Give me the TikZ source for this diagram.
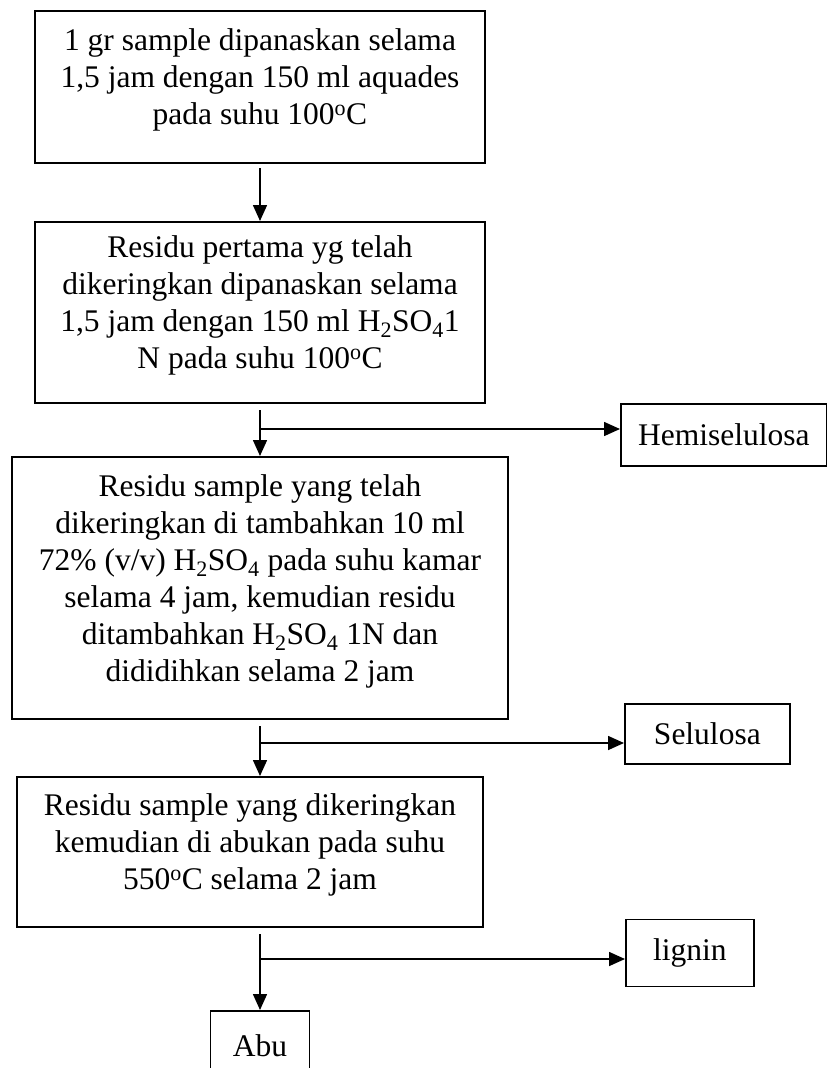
\documentclass[tikz,border=0pt]{standalone}
\usepackage{fontspec}
\setmainfont{Liberation Serif}
\usetikzlibrary{arrows.meta,positioning}
\tikzset{
  stepbox/.style={draw, line width=2pt, align=center, inner sep=0pt, font=\fontsize{31.5}{37}\selectfont},
  resultbox/.style={draw, line width=1.7pt, inner sep=0pt, font=\fontsize{31.5}{37}\selectfont},
  flowarrow/.style={line width=1.6pt, -{Triangle[length=16pt,width=14pt]}},
}
\newcommand{\padbottom}{\rule[-20pt]{0pt}{1pt}}

\begin{document}
\begin{tikzpicture}[x=1pt, y=-1pt]
    \useasboundingbox (0,0) rectangle (827,1068);
    \node[stepbox, minimum width=450pt, minimum height=152pt] (boil) at (260,87) {1 gr sample dipanaskan selama\\1,5 jam dengan 150 ml aquades\\pada suhu 100\textsuperscript{o}C\padbottom};
    \node[stepbox, minimum width=450pt, minimum height=181pt, below=57pt of boil] (acid) {Residu pertama yg telah\\dikeringkan dipanaskan selama\\1,5 jam dengan 150 ml H\textsubscript{2}SO\textsubscript{4}1\\N pada suhu 100\textsuperscript{o}C\padbottom};
    \node[stepbox, minimum width=496pt, minimum height=262pt, below=52pt of acid] (strong) {Residu sample yang telah\\dikeringkan di tambahkan 10 ml\\72\% (v/v) H\textsubscript{2}SO\textsubscript{4} pada suhu kamar\\selama 4 jam, kemudian residu\\ditambahkan H\textsubscript{2}SO\textsubscript{4} 1N dan\\dididihkan selama 2 jam\padbottom};
    \node[stepbox, minimum width=466pt, minimum height=150pt, below=56pt of strong, xshift=-10pt] (ash) {Residu sample yang dikeringkan\\kemudian di abukan pada suhu\\550\textsuperscript{o}C selama 2 jam\padbottom};
    \node[resultbox, minimum width=99pt, minimum height=70pt, below=82pt of ash, xshift=10pt] (abu) {Abu};
    \coordinate[below=25pt of acid] (split1);
    \coordinate[below=23pt of strong] (split2);
    \coordinate (drop3) at (ash.south -| strong.south);
    \coordinate[below=31pt of drop3] (split3);
    \node[resultbox, minimum width=206pt, minimum height=62pt, right=360pt of split1, yshift=-6pt] (hemi) {Hemiselulosa};
    \node[resultbox, minimum width=165pt, minimum height=60pt, right=364pt of split2, yshift=9pt] (selu) {Selulosa};
    \node[resultbox, minimum width=128pt, minimum height=67pt, right=365pt of split3, yshift=6pt] (lignin) {lignin};
    \draw[flowarrow] ([yshift=-4pt]boil.south) -- (acid.north);
    \draw[flowarrow] ([yshift=-6pt]acid.south) -- (strong.north);
    \draw[flowarrow] (split1) -- (split1 -| hemi.west);
    \draw[flowarrow] ([yshift=-6pt]strong.south) -- (strong.south |- ash.north);
    \draw[flowarrow] (split2) -- (split2 -| selu.west);
    \draw[flowarrow] ([yshift=-6pt]drop3) -- (abu.north);
    \draw[flowarrow] (split3) -- (split3 -| lignin.west);
  \end{tikzpicture}
\end{document}
